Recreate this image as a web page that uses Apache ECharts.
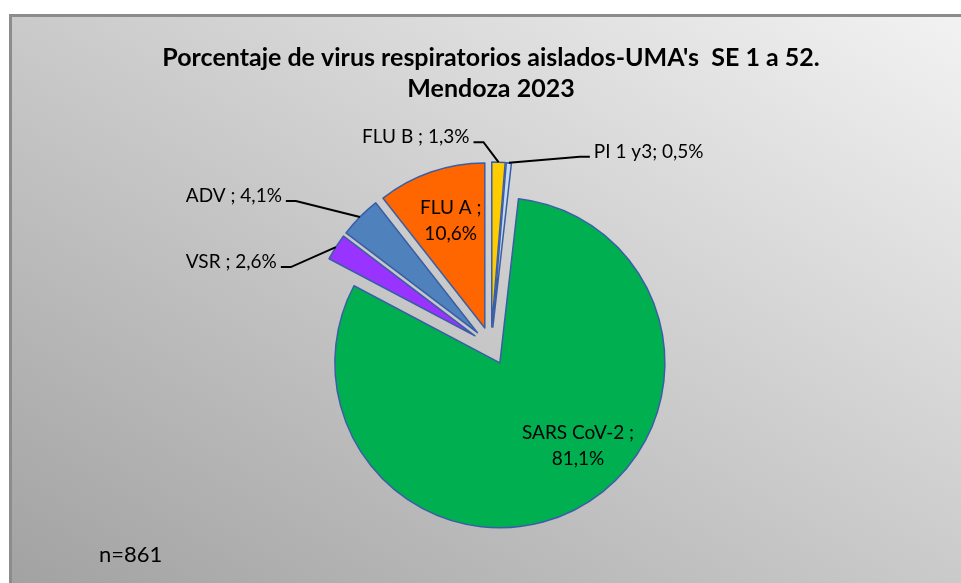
<!DOCTYPE html>
<html lang="es">
<head>
<meta charset="UTF-8">
<script src="https://cdn.jsdelivr.net/npm/echarts@6.0.0/dist/echarts.min.js"></script>
<title>Virus respiratorios Mendoza 2023</title>
<style>
  html, body { margin: 0; padding: 0; background: #fff; }
  #frame {
    position: absolute; left: 9px; top: 14px; width: 952px; height: 569px;
    box-sizing: border-box;
    border-left: 3px solid #8c8c8c; border-top: 3px solid #8c8c8c;
    background: linear-gradient(to top right, #a2a2a2, #f2f2f2);
  }
  #chart { position: absolute; left: 0; top: 0; width: 961px; height: 583px; }
</style>
</head>
<body>
<div id="frame"></div>
<div id="chart"></div>
<script>
// datos: orden horario desde las 12
const categories = ['FLU B ', 'PI 1 y3', 'SARS CoV-2 ', 'VSR ', 'ADV ', 'FLU A '];
const percentages = [1.3, 0.5, 81.1, 2.6, 4.1, 10.6];
const sliceColors = ['#ffcc00', '#c5d9f1', '#00b050', '#9933ff', '#4f81bd', '#ff6600'];
const insideNames = ['SARS CoV-2 ', 'FLU A '];
const titleText = "Porcentaje de virus respiratorios aislados-UMA's  SE 1 a 52.\nMendoza 2023";
const sampleText = 'n=861';

// layout
const CX = 491, CY = 346, R = 165, OFFSET = 19;
const FONT = 'Lato';
// codo de la linea guia, relativo al punto de la porcion
const knees = {
  'FLU B ': [-15, -20],
  'PI 1 y3': [71, -6],
  'VSR ': [-45, 20],
  'ADV ': [-64, -16]
};
// ajuste de las etiquetas internas
const insideShift = { 'SARS CoV-2 ': [25, -18], 'FLU A ': [3, 0] };

const total = percentages.reduce((a, b) => a + b, 0);
function sliceDir(i) {
  let start = 0;
  for (let k = 0; k < i; k++) start += percentages[k] / total * 360;
  const mid = (start + percentages[i] / total * 180) * Math.PI / 180;
  return [Math.sin(mid), -Math.cos(mid)];
}
const fmt = v => v.toFixed(1).replace('.', ',');

const pieData = categories.map((name, i) => ({ name: name, value: percentages[i] }));

const chart = echarts.init(document.getElementById('chart'));
chart.setOption({
  backgroundColor: 'transparent',
  animation: false,
  title: [{
    text: titleText,
    left: 486, top: 37, textAlign: 'center',
    textStyle: { fontFamily: FONT, fontWeight: 'bold', fontSize: 25, lineHeight: 31, color: '#000' }
  }, {
    text: sampleText,
    left: 94, top: 539,
    textStyle: { fontFamily: FONT, fontWeight: 'normal', fontSize: 22, lineHeight: 22, color: '#000' }
  }],
  series: [{
    // porciones separadas
    type: 'pie',
    z: 2,
    center: [CX, CY],
    radius: R,
    startAngle: 90,
    clockwise: true,
    selectedMode: 'multiple',
    selectedOffset: OFFSET,
    silent: true,
    emphasis: { disabled: true },
    itemStyle: { borderColor: '#3a5ea6', borderWidth: 1.5 },
    select: { itemStyle: { borderColor: '#3a5ea6', borderWidth: 1.5 } },
    label: { show: false },
    labelLine: { show: false },
    data: pieData.map((d, i) => ({
      name: d.name, value: d.value, selected: true,
      itemStyle: { color: sliceColors[i] }
    }))
  }, {
    // etiquetas (misma escala, porciones invisibles)
    type: 'pie',
    z: 3,
    center: [CX, CY],
    radius: R,
    startAngle: 90,
    clockwise: true,
    selectedMode: false,
    silent: true,
    avoidLabelOverlap: false,
    emphasis: { disabled: true },
    itemStyle: { color: 'rgba(0,0,0,0)', borderWidth: 0 },
    label: {
      color: '#000', fontFamily: FONT, fontSize: 19, lineHeight: 26,
      formatter: p => insideNames.includes(p.name)
        ? p.name + ';\n' + fmt(p.value) + '%'
        : p.name + '; ' + fmt(p.value) + '%'
    },
    labelLine: { show: true, length: 10, length2: 10, lineStyle: { color: '#000', width: 2 } },
    labelLayout: function (params) {
      const i = params.dataIndex;
      const name = categories[i];
      const [dx, dy] = sliceDir(i);
      if (insideNames.includes(name)) {
        const s = insideShift[name];
        const d = OFFSET + R * 0.69;
        return { x: CX + d * dx + s[0], y: CY + d * dy + s[1], align: 'center', verticalAlign: 'middle' };
      }
      const ax = CX + (R + OFFSET) * dx, ay = CY + (R + OFFSET) * dy;
      const k = knees[name];
      const kx = ax + k[0], ky = ay + k[1];
      const side = k[0] < 0 ? -1 : 1;
      const tx = kx + side * 10;
      return {
        x: tx + side * 4, y: ky - 5,
        align: side < 0 ? 'right' : 'left', verticalAlign: 'middle',
        labelLinePoints: [[ax, ay], [kx, ky], [tx, ky]]
      };
    },
    data: pieData.map(d => ({
      name: d.name, value: d.value,
      label: { position: insideNames.includes(d.name) ? 'inside' : 'outside' },
      labelLine: { show: !insideNames.includes(d.name) }
    }))
  }]
});
</script>
</body>
</html>
